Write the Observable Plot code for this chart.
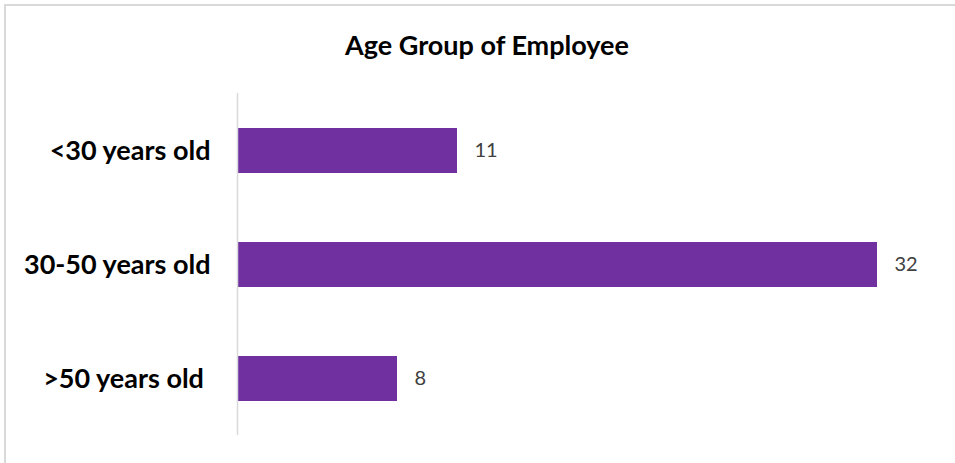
<!DOCTYPE html>
<html>
<head>
<meta charset="utf-8">
<script src="https://cdn.jsdelivr.net/npm/d3@7"></script>
<script src="https://cdn.jsdelivr.net/npm/@observablehq/plot@0.6"></script>
<style>
  html, body { margin: 0; padding: 0; background: #fff; overflow: hidden; }
  #wrap { position: relative; width: 955px; height: 463px; overflow: hidden; font-family: Lato, "Open Sans", sans-serif; }
  #frame { position: absolute; left: 4px; top: 4px; width: 980px; height: 490px; border: 2px solid #d9d9d9; box-sizing: border-box; }
  #title { position: absolute; left: 0; width: 974px; top: 31px; line-height: 27px; text-align: center; font-weight: bold; font-size: 27px; color: #000; }
  #chart { position: absolute; left: 0; top: 0; }
</style>
</head>
<body>
<div id="wrap">
  <div id="frame"></div>
  <div id="title">Age Group of Employee</div>
  <div id="chart"></div>
</div>
<script>
const categories = ["<30 years old", "30-50 years old", ">50 years old\u00a0"];
const values = [11, 32, 8];
const title = "Age Group of Employee";

document.getElementById("title").textContent = title;
const data = categories.map((c, i) => ({category: c, value: values[i]}));

const chart = Plot.plot({
  width: 955,
  height: 463,
  marginLeft: 237,
  marginRight: 18,
  marginTop: 93,
  marginBottom: 28,
  style: {background: "transparent", fontFamily: "Lato, 'Open Sans', sans-serif"},
  x: {domain: [0, 35], axis: null},
  y: {domain: categories, paddingInner: 0.607, paddingOuter: 0.3035, align: 0.5, label: null},
  marks: [
    Plot.barX(data, {x: "value", y: "category", fill: "#7030a0"}),
    Plot.ruleX([0], {stroke: "#d9d9d9", strokeWidth: 1.5}),
    Plot.text(data, {x: "value", y: "category", text: d => String(d.value), textAnchor: "start", dx: 17, fill: "#404040", fontSize: 20}),
    Plot.axisY({tickSize: 0, tickPadding: 27, fontSize: 27, fontWeight: "bold", fill: "#000", label: null})
  ]
});
document.getElementById("chart").appendChild(chart);
</script>
</body>
</html>
